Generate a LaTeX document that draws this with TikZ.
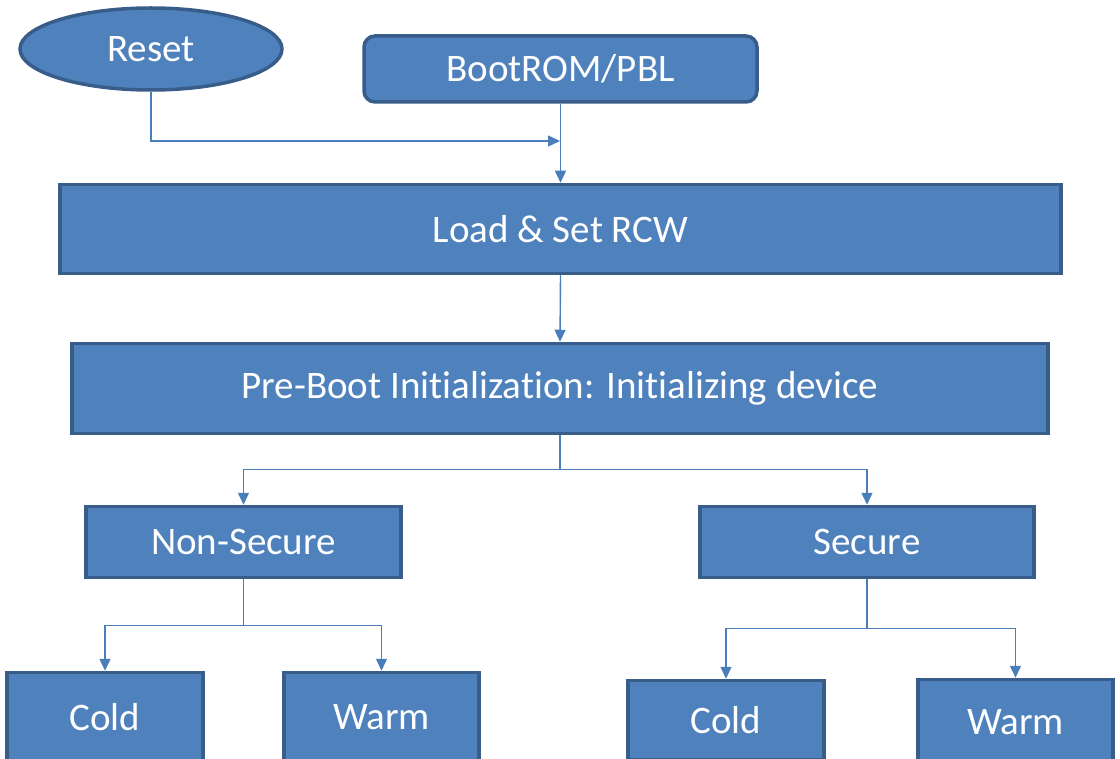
\documentclass[tikz,border=0pt]{standalone}
\usepackage{fontspec}
\setmainfont{Carlito}[RawFeature=-liga]
\usetikzlibrary{shapes.geometric,arrows.meta}

\definecolor{boxfill}{HTML}{4F81BD}
\definecolor{boxline}{HTML}{385D8A}
\definecolor{arrowline}{HTML}{4A7EBB}

\begin{document}
\begin{tikzpicture}[x=1pt, y=-1pt,
    box/.style={draw=boxline, fill=boxfill, line width=3.5pt, inner sep=0pt,
                text=white, font=\fontsize{39}{47}\selectfont},
    conn/.style={draw=arrowline, line width=1.4pt,
                 -{Triangle[length=12pt, width=11pt]}}]

    \useasboundingbox (0,0) rectangle (1120,759);
    \clip (0,0) rectangle (1120,759);

% blocos de cima
\node[box, ellipse, minimum width=262, minimum height=82] (reset) at (151,49) {Reset};
\node[box, rounded corners=11pt, minimum width=393, minimum height=66] (bootrom) at (560.5,69) {BootROM/PBL};

\node[box, minimum width=1001, minimum height=89] (rcw) at (560.5,229) {Load \& Set RCW};
\node[box, minimum width=976, minimum height=90] (preboot) at (560,388.5) {Pre-Boot Initialization: Initializing device};

% ramos
\node[box, minimum width=315, minimum height=71] (nonsec) at (243.5,542) {Non-Secure};
\node[box, minimum width=334, minimum height=71] (sec) at (867,542) {Secure};

\node[box, minimum width=196, minimum height=89] (coldns) at (105,717) {Cold};
\node[box, minimum width=195, minimum height=89] (warmns) at (381.5,717) {Warm};
\node[box, minimum width=196, minimum height=79] (colds) at (726,720) {Cold};
\node[box, minimum width=195, minimum height=85] (warms) at (1015.5,722) {Warm};

% ligacoes
\coordinate (join) at (560,141);
\draw[conn] (reset.south) |- (join);
\draw[conn] (bootrom.south) -- (rcw.north);
\draw[conn] (rcw.south) -- (preboot.north);

\draw[conn] (preboot.south) -- ++(0,34) -| (nonsec.north);
\draw[conn] (preboot.south) -- ++(0,34) -| (sec.north);

\draw[conn] (nonsec.south) -- ++(0,46) -| (coldns.north);
\draw[conn] (nonsec.south) -- ++(0,46) -| (warmns.north);

\draw[conn] (sec.south) -- ++(0,49) -| (colds.north);
\draw[conn] (sec.south) -- ++(0,49) -| (warms.north);

\end{tikzpicture}
\end{document}
